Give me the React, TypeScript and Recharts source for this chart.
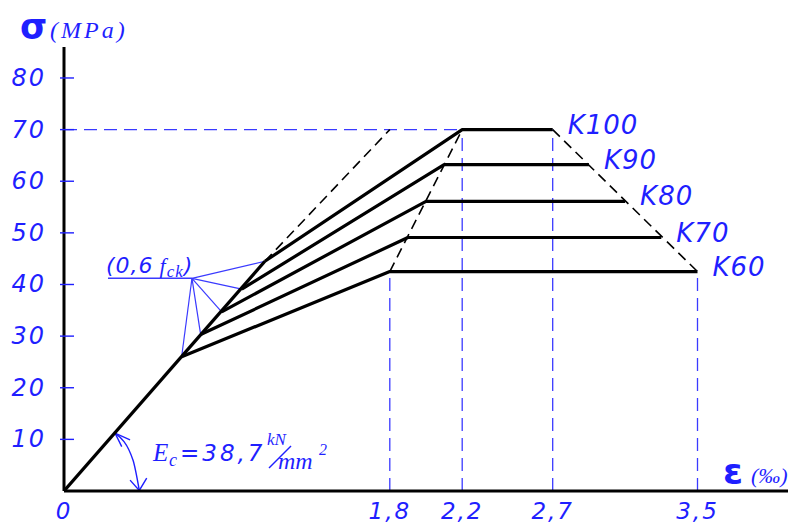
import React from 'react';
import { ComposedChart, Line, Scatter, XAxis, YAxis, ReferenceLine } from 'recharts';

// Axis ticks
const strainTicks = [0, 1.8, 2.2, 2.7, 3.5];
const stressTicks = [10, 20, 30, 40, 50, 60, 70, 80];

// Concrete grades: break point on the initial tangent, peak and ultimate strain
const grades = ['K60', 'K70', 'K80', 'K90', 'K100'];
const breakStrain = [0.65, 0.755, 0.871, 0.982, 1.11];
const breakStress = [26.0, 30.3, 34.7, 39.1, 44.5];
const peakStrain = [1.8, 1.9, 2.0, 2.1, 2.2];
const peakStress = [42.5, 49.1, 56.1, 63.2, 70];
const ultimateStrain = [3.5, 3.3, 3.1, 2.9, 2.7];

// Extension of the initial tangent up to the K100 peak stress
const tangentEnd = { e: 1.8, s: 70 };

// Leader lines for the (0,6 fck) note
const noteApex = { e: 0.707, s: 41.2 };
const noteUnderlineStart = 0.243;

// Double-headed arc marking the modulus angle
const modulusArc = [
  { e: 0.282, s: 11.2 },
  { e: 0.381, s: 6.0 },
  { e: 0.416, s: 0.1 },
];
const arcHeadTop = [
  { e: 0.365, s: 9.9 },
  { e: 0.282, s: 11.2 },
  { e: 0.319, s: 8.6 },
];
const arcHeadBottom = [
  { e: 0.365, s: 2.1 },
  { e: 0.416, s: 0.1 },
  { e: 0.457, s: 2.5 },
];

const BLUE = '#1f1fff';
const GUIDE = '#3a3aff';
const DIGITS = '"DejaVu Sans", sans-serif';
const SERIF = '"Liberation Serif", serif';

const curves = grades.map((g, i) => [
  { e: breakStrain[i], s: breakStress[i] },
  { e: peakStrain[i], s: peakStress[i] },
  { e: ultimateStrain[i], s: peakStress[i] },
]);
const tangentSolid = [{ e: 0, s: 0 }, { e: breakStrain[4], s: breakStress[4] }];
const tangentDashed = [{ e: breakStrain[4], s: breakStress[4] }, tangentEnd];
const peakLocus = [
  { e: peakStrain[0], s: peakStress[0] },
  { e: peakStrain[4], s: peakStress[4] },
];
const ultimateLocus = [
  { e: ultimateStrain[4], s: peakStress[4] },
  { e: ultimateStrain[0], s: peakStress[0] },
];
const gradeEnds = grades.map((g, i) => ({ e: ultimateStrain[i], s: peakStress[i], grade: g }));

const StressTick = (props: any) => {
  const { x, y, payload } = props;
  return (
    <g>
      <line x1={x - 4} x2={x + 10} y1={y} y2={y} stroke={BLUE} strokeWidth={1.4} />
      <text
        x={x - 18}
        y={y}
        textAnchor="end"
        dominantBaseline="central"
        fill={BLUE}
        fontFamily={DIGITS}
        fontStyle="italic"
        fontSize={24}
        letterSpacing={2}
      >
        {payload.value}
      </text>
    </g>
  );
};

const StrainTick = (props: any) => {
  const { x, y, payload } = props;
  return (
    <text
      x={x}
      y={y + 28}
      textAnchor="middle"
      fill={BLUE}
      fontFamily={DIGITS}
      fontStyle="italic"
      fontSize={23}
      letterSpacing={2}
    >
      {String(payload.value).replace('.', ',')}
    </text>
  );
};

const GradeLabel = (props: any) => {
  const { cx, cy, payload } = props;
  return (
    <text
      x={cx + 15}
      y={cy - 5}
      dominantBaseline="central"
      fill={BLUE}
      fontFamily={DIGITS}
      fontStyle="italic"
      fontSize={26}
      letterSpacing={1}
    >
      {payload.grade}
    </text>
  );
};

export default function App() {
  return (
    <div style={{ position: 'absolute', left: 0, top: 0, width: 791, height: 528, background: '#fff' }}>
      <ComposedChart width={791} height={528} margin={{ top: 47, right: 3, bottom: 0, left: 0 }}>
        <XAxis
          type="number"
          dataKey="e"
          domain={[0, 4]}
          ticks={strainTicks}
          interval={0}
          height={37}
          tickSize={0}
          tickMargin={0}
          tickLine={false}
          axisLine={{ stroke: '#000', strokeWidth: 3 }}
          tick={<StrainTick />}
          allowDataOverflow
        />
        <YAxis
          type="number"
          dataKey="s"
          domain={[0, 86]}
          ticks={stressTicks}
          interval={0}
          width={64}
          tickSize={0}
          tickMargin={0}
          tickLine={false}
          axisLine={{ stroke: '#000', strokeWidth: 3 }}
          tick={<StressTick />}
          allowDataOverflow
        />

        {/* blue guide lines */}
        <ReferenceLine
          segment={[{ x: 0, y: peakStress[4] }, { x: peakStrain[4], y: peakStress[4] }]}
          stroke={GUIDE}
          strokeWidth={1.3}
          strokeDasharray="13 7"
        />
        <ReferenceLine
          segment={[{ x: peakStrain[0], y: 0 }, { x: peakStrain[0], y: peakStress[0] }]}
          stroke={GUIDE}
          strokeWidth={1.3}
          strokeDasharray="13 7"
        />
        <ReferenceLine
          segment={[{ x: peakStrain[4], y: 0 }, { x: peakStrain[4], y: peakStress[4] }]}
          stroke={GUIDE}
          strokeWidth={1.3}
          strokeDasharray="13 7"
        />
        <ReferenceLine
          segment={[{ x: ultimateStrain[4], y: 0 }, { x: ultimateStrain[4], y: peakStress[4] }]}
          stroke={GUIDE}
          strokeWidth={1.3}
          strokeDasharray="13 7"
        />
        <ReferenceLine
          segment={[{ x: ultimateStrain[0], y: 0 }, { x: ultimateStrain[0], y: peakStress[0] }]}
          stroke={GUIDE}
          strokeWidth={1.3}
          strokeDasharray="13 7"
        />

        {/* (0,6 fck) leaders */}
        <ReferenceLine
          segment={[{ x: noteUnderlineStart, y: noteApex.s }, { x: noteApex.e, y: noteApex.s }]}
          stroke={GUIDE}
          strokeWidth={1.5}
        />
        {grades.map((g, i) => (
          <ReferenceLine
            key={'lead' + g}
            segment={[{ x: noteApex.e, y: noteApex.s }, { x: breakStrain[i], y: breakStress[i] }]}
            stroke={GUIDE}
            strokeWidth={1.2}
          />
        ))}

        {/* modulus arc */}
        <Line data={modulusArc} dataKey="s" type="monotone" stroke={BLUE} strokeWidth={1.4} dot={false} isAnimationActive={false} />
        <Line data={arcHeadTop} dataKey="s" type="linear" stroke={BLUE} strokeWidth={1.4} dot={false} isAnimationActive={false} />
        <Line data={arcHeadBottom} dataKey="s" type="linear" stroke={BLUE} strokeWidth={1.4} dot={false} isAnimationActive={false} />

        {/* black dashed loci */}
        <Line data={tangentDashed} dataKey="s" type="linear" stroke="#000" strokeWidth={1.6} strokeDasharray="10 6" dot={false} isAnimationActive={false} />
        <Line data={peakLocus} dataKey="s" type="linear" stroke="#000" strokeWidth={1.6} strokeDasharray="10 6" dot={false} isAnimationActive={false} />
        <Line data={ultimateLocus} dataKey="s" type="linear" stroke="#000" strokeWidth={1.6} strokeDasharray="10 6" dot={false} isAnimationActive={false} />

        {/* stress-strain curves */}
        <Line data={tangentSolid} dataKey="s" type="linear" stroke="#000" strokeWidth={3.2} dot={false} isAnimationActive={false} />
        {curves.map((c, i) => (
          <Line
            key={grades[i]}
            data={c}
            dataKey="s"
            type="linear"
            stroke="#000"
            strokeWidth={3.2}
            strokeLinejoin="round"
            dot={false}
            isAnimationActive={false}
          />
        ))}

        <Scatter data={gradeEnds} dataKey="s" shape={<GradeLabel />} isAnimationActive={false} />
      </ComposedChart>

      <svg width={791} height={528} style={{ position: 'absolute', left: 0, top: 0, pointerEvents: 'none' }}>
        <text x={20} y={39} fill={BLUE} fontFamily={DIGITS} fontWeight="bold" fontSize={35}>σ</text>
        <text x={50} y={38} fill={BLUE} fontFamily={SERIF} fontStyle="italic" fontSize={24} letterSpacing={3}>(MPa)</text>

        <text x={723} y={484} fill={BLUE} fontFamily={DIGITS} fontWeight="bold" fontSize={36}>ε</text>
        <text x={751} y={483} fill={BLUE} fontFamily={SERIF} fontStyle="italic" fontSize={22}>(‰)</text>

        <text x={106} y={273} fill={BLUE} fontFamily={DIGITS} fontStyle="italic" fontSize={22} letterSpacing={1}>
          (0,6
          <tspan fontFamily={SERIF} dx={6}>f</tspan>
          <tspan fontFamily={SERIF} fontSize={17} dy={4}>ck</tspan>
          <tspan dy={-4}>)</tspan>
        </text>

        <text x={153} y={461} fill={BLUE} fontFamily={SERIF} fontStyle="italic" fontSize={25}>E</text>
        <text x={169} y={466} fill={BLUE} fontFamily={SERIF} fontStyle="italic" fontSize={18}>c</text>
        <text x={180} y={461} fill={BLUE} fontFamily={DIGITS} fontStyle="italic" fontSize={23} letterSpacing={3}>=38,7</text>
        <text x={267} y={445} fill={BLUE} fontFamily={SERIF} fontStyle="italic" fontSize={17}>kN</text>
        <line x1={269} y1={468} x2={291} y2={446} stroke={BLUE} strokeWidth={1.5} />
        <text x={278} y={469} fill={BLUE} fontFamily={SERIF} fontStyle="italic" fontSize={24}>mm</text>
        <text x={319} y={455} fill={BLUE} fontFamily={SERIF} fontStyle="italic" fontSize={16}>2</text>
      </svg>
    </div>
  );
}
